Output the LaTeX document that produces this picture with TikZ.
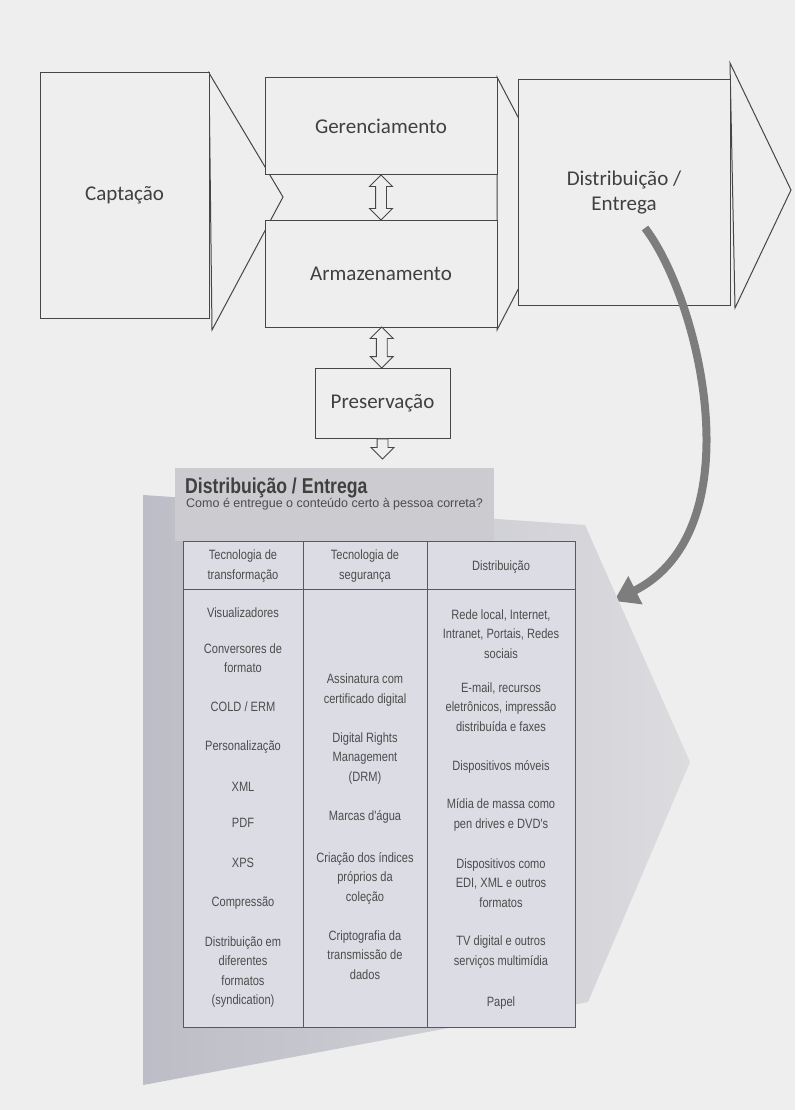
\documentclass[tikz,border=0pt]{standalone}
\usepackage{fontspec}
\setmainfont{Carlito}
\setsansfont{Liberation Sans}
\newfontfamily\estreita{Liberation Sans}[FakeStretch=0.82]
\usetikzlibrary{arrows.meta,shapes.arrows,calc}

\definecolor{papel}{RGB}{238,238,238}
\definecolor{contorno}{RGB}{70,70,70}
\definecolor{tabela}{RGB}{220,220,228}
\definecolor{faixa}{RGB}{204,204,208}
\definecolor{curva}{RGB}{125,125,125}
\definecolor{sombra}{RGB}{188,189,198}
\definecolor{ponta}{RGB}{220,220,223}

\begin{document}
\begin{tikzpicture}[x=1pt,y=-1pt,
  caixa/.style={draw=contorno,fill=papel,line width=1pt},
  rotulo/.style={text=black!75,font=\fontsize{21}{25}\selectfont,align=center},
  seta oca/.style={double arrow,draw=contorno,fill=papel,line width=0.9pt,rotate=90,
    inner sep=5pt,double arrow head extend=6pt},
  celula/.style={text=black!70,font=\estreita\fontsize{13.5}{19.5}\selectfont,align=center},
  grade/.style={draw=black!65,line width=1pt}]

% fundo da pagina
\fill[papel] (0,0) rectangle (795,1110);
\useasboundingbox (0,0) rectangle (795,1110);

% Captacao
\draw[caixa] (209,73) -- (283,197) -- (212,330) -- cycle;
\node[caixa,rotulo,minimum width=169,minimum height=245] (capt) at (124.5,195.5) {Captação};

% Gerenciamento e Armazenamento
\draw[caixa] (497,77) -- (563,203) -- (497,330) -- cycle;
\node[caixa,rotulo,minimum width=232,minimum height=97] (ger) at (381,126.5) {Gerenciamento};
\node[caixa,rotulo,minimum width=232,minimum height=107] (arm) at (381,273.5) {Armazenamento};

% Distribuicao / Entrega
\draw[caixa] (730,63) -- (791,190) -- (735,308) -- cycle;
\node[caixa,rotulo,minimum width=212,minimum height=225] (dist) at (624,192.5) {Distribuição /\\Entrega};

% Preservacao
\node[caixa,rotulo,minimum width=135,minimum height=70] (pres) at (382.5,403) {Preservação};

% setas ocas
\node[seta oca,minimum height=45] (s1) at ($(ger.south)!0.5!(arm.north)$) {};
\node[seta oca,minimum height=41] (s2) at ($(arm.south)!0.5!(pres.north)$) {};
\node[single arrow,draw=contorno,fill=papel,line width=0.9pt,rotate=-90,minimum height=20,
  inner sep=5pt,single arrow head extend=6pt,anchor=tail] (s3) at (pres.south) {};

% seta curva
\coordinate (ini) at (645,228);
\coordinate (fim) at (614,601);
\draw[curva,line width=8,-{Triangle[length=24,width=30]}] (ini) .. controls (700,300) and (755,530) .. (fim);

% seta grande ao fundo
\shade[left color=sombra,right color=ponta] (143,495) -- (585,525) -- (690,762) -- (588,1002) -- (143,1085) -- cycle;

% titulo
\fill[faixa] (175,468) rectangle (494,541);
\node[anchor=north west,inner sep=0,text=black!75,font=\estreita\bfseries\fontsize{21.5}{24}\selectfont] (titulo) at (185,478) {Distribuição / Entrega};
\node[anchor=north west,inner sep=0,text=black!70,font=\sffamily\fontsize{12.5}{14}\selectfont] (pergunta) at (186,498) {Como é entregue o conteúdo certo à pessoa correta?};

% tabela
\draw[grade,fill=tabela] (183,541) rectangle (575,1027);
\draw[grade] (183,589) -- (575,589);
\draw[grade] (303,541) -- (303,1027);
\draw[grade] (427,541) -- (427,1027);

\node[celula] (h1) at (243,566) {Tecnologia de\\transformação};
\node[celula] (h2) at (365,566) {Tecnologia de\\segurança};
\node[celula] (h3) at (501,567) {Distribuição};

\node[celula] (a1) at (243,613) {Visualizadores};
\node[celula] (a2) at (243,658) {Conversores de\\formato};
\node[celula] (a3) at (243,707) {COLD / ERM};
\node[celula] (a4) at (243,747) {Personalização};
\node[celula] (a5) at (243,787) {XML};
\node[celula] (a6) at (243,823) {PDF};
\node[celula] (a7) at (243,863) {XPS};
\node[celula] (a8) at (243,903) {Compressão};
\node[celula] (a9) at (243,972) {Distribuição em\\diferentes\\formatos\\(syndication)};

\node[celula] (b1) at (365,690) {Assinatura com\\certificado digital};
\node[celula] (b2) at (365,758) {Digital Rights\\Management\\(DRM)};
\node[celula] (b3) at (365,817) {Marcas d'água};
\node[celula] (b4) at (365,878) {Criação dos índices\\próprios da\\coleção};
\node[celula] (b5) at (365,955) {Criptografia da\\transmissão de\\dados};

\node[celula] (c1) at (501,634) {Rede local, Internet,\\Intranet, Portais, Redes\\sociais};
\node[celula] (c2) at (501,707) {E-mail, recursos\\eletrônicos, impressão\\distribuída e faxes};
\node[celula] (c3) at (501,767) {Dispositivos móveis};
\node[celula] (c4) at (501,815) {Mídia de massa como\\pen drives e DVD's};
\node[celula] (c5) at (501,883) {Dispositivos como\\EDI, XML e outros\\formatos};
\node[celula] (c6) at (501,952) {TV digital e outros\\serviços multimídia};
\node[celula] (c7) at (501,1003) {Papel};

\end{tikzpicture}
\end{document}
